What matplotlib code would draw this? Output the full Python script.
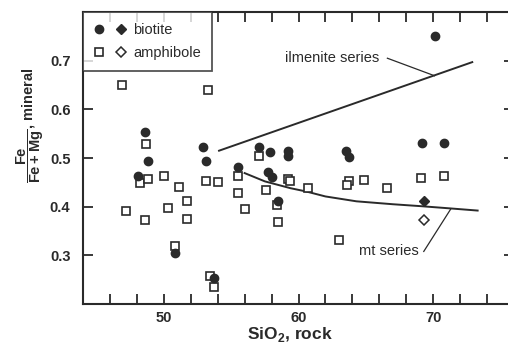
import numpy as np
import matplotlib
matplotlib.use("Agg")
import matplotlib.pyplot as plt
from matplotlib.lines import Line2D
from matplotlib.legend_handler import HandlerTuple

# biotite (filled circles)
bio_x = [48.6, 48.8, 48.1, 50.8, 52.9, 53.1, 55.5, 57.1, 57.9, 59.2, 59.2,
         57.7, 58.0, 58.45, 63.5, 63.75, 69.15, 70.8, 70.1, 53.7]
bio_y = [0.553, 0.493, 0.464, 0.304, 0.522, 0.493, 0.481, 0.522, 0.512, 0.514, 0.505,
         0.472, 0.461, 0.411, 0.515, 0.503, 0.531, 0.531, 0.751, 0.254]
# biotite, filled diamond
bio_d_x = [69.3]
bio_d_y = [0.412]

# amphibole (open squares)
amp_x = [46.9, 48.7, 48.2, 48.8, 50.0, 51.1, 53.1, 54.0, 55.5, 55.5, 56.0, 57.6,
         59.2, 59.4, 58.5, 58.4, 47.2, 48.6, 50.3, 51.7, 51.7, 50.8, 53.4, 53.7,
         57.1, 53.3, 60.7, 63.75, 63.6, 64.9, 66.6, 69.1, 70.8, 63.0]
amp_y = [0.649, 0.529, 0.449, 0.457, 0.462, 0.440, 0.453, 0.451, 0.462, 0.428, 0.396, 0.435,
         0.457, 0.452, 0.369, 0.404, 0.392, 0.372, 0.397, 0.412, 0.375, 0.320, 0.258, 0.235,
         0.505, 0.640, 0.438, 0.453, 0.445, 0.454, 0.438, 0.459, 0.464, 0.332]
# amphibole, open diamond
amp_d_x = [69.3]
amp_d_y = [0.373]

# trend lines
ilm_x = [54.1, 72.9]
ilm_y = [0.515, 0.697]
mt_x = [56.0, 57.5, 59.4, 60.6, 62.0, 64.3, 67.0, 69.1, 71.0, 73.3]
mt_y = [0.469, 0.452, 0.438, 0.431, 0.421, 0.411, 0.405, 0.401, 0.397, 0.392]

plt.rcParams['font.family'] = ['Liberation Sans', 'DejaVu Sans']
plt.rcParams['mathtext.fontset'] = 'custom'
plt.rcParams['mathtext.rm'] = 'Liberation Sans'
plt.rcParams['mathtext.bf'] = 'Liberation Sans:bold'

fig = plt.figure(figsize=(5.08, 3.5), dpi=100)
ax = fig.add_axes([83/508, 1-304/350, (514-83)/508, (304-12)/350])

lc = '#2a2a2a'
ax.plot(ilm_x, ilm_y, color=lc, lw=1.4)
ax.plot(mt_x, mt_y, color=lc, lw=1.4)

ax.plot(amp_x, amp_y, ls='none', marker='s', ms=5.2, mfc='white', mec=lc, mew=1.2)
ax.plot(bio_x, bio_y, ls='none', marker='o', ms=6, mfc=lc, mec=lc)
ax.plot(bio_d_x, bio_d_y, ls='none', marker='D', ms=5, mfc=lc, mec=lc)
ax.plot(amp_d_x, amp_d_y, ls='none', marker='D', ms=5, mfc='white', mec=lc, mew=1.1)

# labels with leaders
ax.text(59.0, 0.706, 'ilmenite series', fontsize=10.5, va='center', color=lc)
ax.plot([66.6, 70.1], [0.705, 0.669], color=lc, lw=0.9)
ax.text(64.5, 0.308, 'mt series', fontsize=10.5, va='center', color=lc)
ax.plot([69.3, 71.3], [0.308, 0.395], color=lc, lw=0.9)

ax.set_xlim(44, 76)
ax.set_ylim(0.2, 0.8)
ax.set_xticks([50, 60, 70])
ax.set_xticks(np.arange(46, 76, 2), minor=True)
ax.set_yticks([0.3, 0.4, 0.5, 0.6, 0.7])
ax.tick_params(axis='both', which='both', direction='in', top=True, right=True,
               length=7, width=1.3, color=lc)
ax.tick_params(axis='y', pad=9)
ax.tick_params(axis='x', pad=5)
for lab in ax.get_xticklabels() + ax.get_yticklabels():
    lab.set_fontweight('bold')
    lab.set_fontsize(10.5)
    lab.set_color(lc)
for s in ax.spines.values():
    s.set_linewidth(1.5)
    s.set_color(lc)

h1 = (Line2D([], [], ls='none', marker='o', ms=6, mfc=lc, mec=lc),
      Line2D([], [], ls='none', marker='D', ms=5, mfc=lc, mec=lc))
h2 = (Line2D([], [], ls='none', marker='s', ms=5.2, mfc='white', mec=lc, mew=1.2),
      Line2D([], [], ls='none', marker='D', ms=5, mfc='white', mec=lc, mew=1.1))
leg = ax.legend([h1, h2], ['biotite', 'amphibole'], loc='upper left',
                handler_map={tuple: HandlerTuple(ndivide=None, pad=0.7)},
                fancybox=False, edgecolor=lc, borderaxespad=0, fontsize=10.5,
                handlelength=2.2, handletextpad=0.5, borderpad=0.75, labelspacing=0.6)
leg.get_frame().set_linewidth(1.3)
for t in leg.get_texts():
    t.set_color(lc)

fig.text(290/508, 1-335/350, r'SiO$_\mathbf{2}$, rock', ha='center', va='center',
         fontsize=12.5, fontweight='bold', color=lc)
fig.text(30/508, 1-125/350, r'$\mathbf{\dfrac{Fe}{Fe+Mg}}$, mineral', rotation=90,
         ha='center', va='center', fontsize=10.5, fontweight='bold', color=lc)

fig.savefig('out.png', dpi=100)
